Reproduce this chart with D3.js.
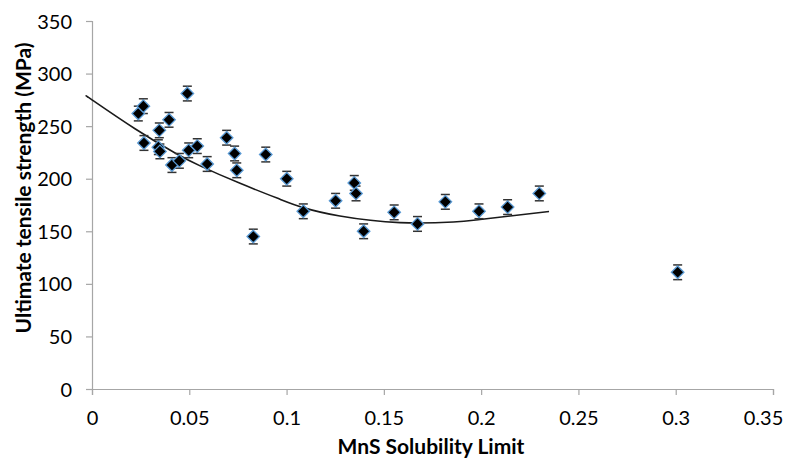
<!DOCTYPE html>
<html>
<head>
<meta charset="utf-8">
<script src="https://cdn.jsdelivr.net/npm/d3@7"></script>
<style>
  html, body { margin: 0; padding: 0; background: #fff; }
  svg { display: block; font-family: Lato, "Open Sans", sans-serif; }
</style>
</head>
<body>
<svg id="chart" width="789" height="460"></svg>
<script>
// ---- data ----
const solubility = [0.0238, 0.0264, 0.0267, 0.0346, 0.0341, 0.0349, 0.0396, 0.0411, 0.0449, 0.0490,
                    0.0497, 0.0541, 0.0592, 0.0692, 0.0733, 0.0744, 0.0829, 0.0893, 0.1001, 0.1086,
                    0.1252, 0.1348, 0.1357, 0.1396, 0.1553, 0.1673, 0.1816, 0.1989, 0.2136, 0.2299];
const strength   = [262, 269, 234, 246, 230, 226, 256, 213, 217, 281,
                    227, 231, 214, 239, 224, 208, 145, 223, 200, 169,
                    179, 196, 186, 150, 168, 157, 178, 169, 173, 186];
const outlierX = [0.301];
const outlierY = [111];
const errorMPa = 7;
// trend line at several x positions
const trendX = [-0.002, 0, 0.0221, 0.0427, 0.0564, 0.0761, 0.0966, 0.1086, 0.1274, 0.1583, 0.1857, 0.1994, 0.2349];
const trendY = [277.5, 275, 247.5, 224.5, 211.5, 195.6, 180.5, 172.5, 164.5, 158.2, 158.8, 161.2, 168.8];
const xTicks = [0, 0.05, 0.1, 0.15, 0.2, 0.25, 0.3, 0.35];
const yTicks = [0, 50, 100, 150, 200, 250, 300, 350];
const xTitle = "MnS Solubility Limit";
const yTitle = "Ultimate tensile strength (MPa)";

const svg = d3.select("#chart");
const x = d3.scaleLinear().domain([0, 0.35]).range([92, 773]);
const y = d3.scaleLinear().domain([0, 350]).range([389, 21]);
const axisColor = "#a6a6a6";
const font = "Lato, 'Open Sans', sans-serif";

// axes
const gx = svg.append("g").attr("transform", `translate(0,${y(0)})`)
  .call(d3.axisBottom(x).tickValues(xTicks).tickSize(6).tickPadding(16)
        .tickFormat(d => d === 0 ? "0" : String(+d.toFixed(2))));
const gy = svg.append("g").attr("transform", `translate(${x(0)},0)`)
  .call(d3.axisLeft(y).tickValues(yTicks).tickSize(6).tickPadding(14).tickFormat(d3.format("d")));
[gx, gy].forEach(g => {
  g.select(".domain").attr("stroke", axisColor).attr("stroke-width", 1.2);
  g.selectAll(".tick line").attr("stroke", axisColor).attr("stroke-width", 1.2);
  g.selectAll(".tick text").attr("fill", "#000").style("font-size", "20px").style("font-family", font);
});
gx.selectAll(".tick text").attr("dy", "0.71em");
gy.selectAll(".tick text").attr("dy", "0.35em");
// keep the last x label inside the picture
gx.selectAll(".tick text").filter(d => d === 0.35).attr("dx", -10);

// trend line
svg.append("path")
  .datum(trendX.map((v, i) => [v, trendY[i]]))
  .attr("fill", "none").attr("stroke", "#1a1a1a").attr("stroke-width", 1.6)
  .attr("d", d3.line().curve(d3.curveNatural).x(d => x(d[0])).y(d => y(d[1])));

// points with error bars
const pts = solubility.map((v, i) => ({x: v, y: strength[i]}))
  .concat(outlierX.map((v, i) => ({x: v, y: outlierY[i]})));
const errColor = "#333";
const eg = svg.append("g");
pts.forEach(p => {
  const cx = x(p.x), top = y(p.y + errorMPa), bot = y(p.y - errorMPa);
  eg.append("line").attr("x1", cx).attr("x2", cx).attr("y1", top).attr("y2", bot)
    .attr("stroke", errColor).attr("stroke-width", 1.2);
  [top, bot].forEach(yy => eg.append("line").attr("x1", cx - 4.5).attr("x2", cx + 4.5)
    .attr("y1", yy).attr("y2", yy).attr("stroke", errColor).attr("stroke-width", 1.5));
});
const sym = d3.symbol().type(d3.symbolDiamond2).size(100);
svg.append("g").selectAll("path").data(pts).join("path")
  .attr("transform", d => `translate(${x(d.x)},${y(d.y)})`)
  .attr("d", sym)
  .attr("fill", "#000").attr("stroke", "#5b9bd5").attr("stroke-width", 1.3);

// titles
svg.append("text").attr("x", 431).attr("y", 454)
  .attr("text-anchor", "middle").style("font-size", "21px").style("font-weight", "bold").style("font-family", font)
  .text(xTitle);
svg.append("text").attr("transform", `translate(31,188) rotate(-90)`)
  .attr("text-anchor", "middle").style("font-size", "21px").style("font-weight", "bold").style("font-family", font)
  .text(yTitle);
</script>
</body>
</html>
